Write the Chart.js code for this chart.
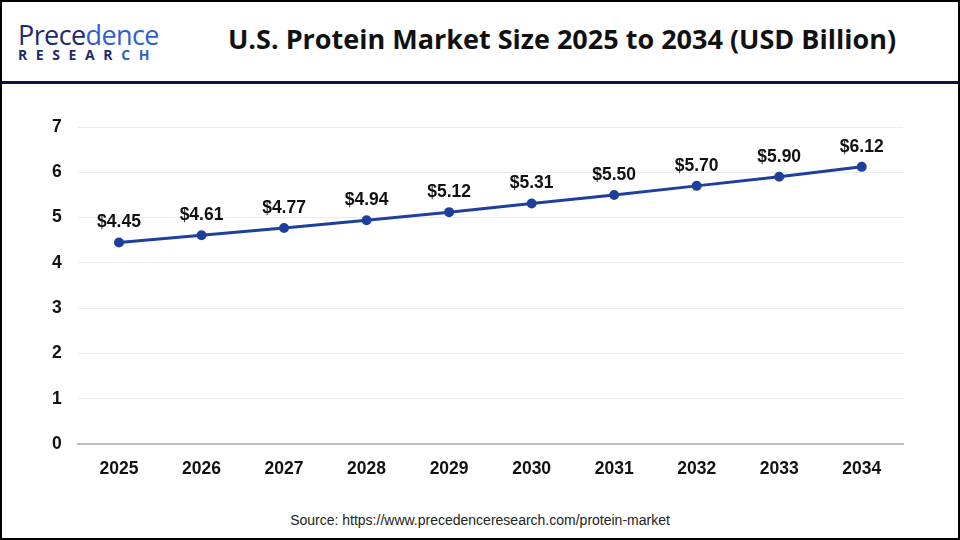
<!DOCTYPE html>
<html>
<head>
<meta charset="utf-8">
<script src="https://cdn.jsdelivr.net/npm/chart.js@4.4.0/dist/chart.umd.min.js"></script>
<style>
  html, body { margin: 0; padding: 0; background: #fff; }
  #frame {
    position: relative; width: 960px; height: 540px; box-sizing: border-box;
    border: 2px solid #000; overflow: hidden; font-family: "Liberation Sans", Arial, sans-serif;
  }
  #header {
    position: absolute; left: 0; top: 0; width: 956px; height: 79px;
    border-bottom: 3px solid #0b1445;
  }
  #logo { position: absolute; left: 16px; top: 19px; line-height: 1; }
  #logo .top { font-family: "Open Sans", sans-serif; font-size: 27px; color: #1d2a6e; letter-spacing: -0.6px; }
  #logo .top .b { color: #2f5fd0; }
  #logo .bot { font-family: "Open Sans", sans-serif; font-weight: 700; font-size: 14px; color: #1d2a6e; letter-spacing: 8.6px; margin-top: 0px; }
  #logo .bot .b { color: #2f5fd0; }
  #title {
    position: absolute; left: 164px; right: 0; top: 22px; text-align: center;
    font-family: "Open Sans", sans-serif; font-weight: 700; font-size: 27px; color: #111;
    line-height: 1.1;
  }
  #wrap { position: absolute; left: 0; top: 84px; width: 956px; height: 420px; }
  #source {
    position: absolute; left: 0; width: 956px; top: 510px; text-align: center;
    font-size: 14px; color: #222;
  }
</style>
</head>
<body>
<div id="frame">
  <div id="header">
    <div id="logo">
      <div class="top">Prece<span class="b">dence</span></div>
      <div class="bot">RESEAR<span class="b">CH</span></div>
    </div>
    <div id="title">U.S. Protein Market Size 2025 to 2034 (USD Billion)</div>
  </div>
  <div id="wrap"><canvas id="myLineChart"></canvas></div>
  <div id="source">Source: https://www.precedenceresearch.com/protein-market</div>
</div>
<script>
const years = ['2025', '2026', '2027', '2028', '2029', '2030', '2031', '2032', '2033', '2034'];
const marketSize = [4.45, 4.61, 4.77, 4.94, 5.12, 5.31, 5.50, 5.70, 5.90, 6.12];
const yTicks = [0, 1, 2, 3, 4, 5, 6, 7];

// Dollar labels above each point
const valueLabels = {
    id: 'valueLabels',
    afterDatasetsDraw(chart) {
        const ctx = chart.ctx;
        const meta = chart.getDatasetMeta(0);
        ctx.save();
        ctx.font = 'bold 17.5px "Liberation Sans", Arial, sans-serif';
        ctx.fillStyle = '#111';
        ctx.textAlign = 'center';
        ctx.textBaseline = 'middle';
        meta.data.forEach((pt, i) => {
            ctx.fillText('$' + marketSize[i].toFixed(2), pt.x, pt.y - 20);
        });
        ctx.restore();
    }
};

const ctx = document.getElementById('myLineChart');
const myLineChart = new Chart(ctx, {
    type: 'line',
    data: {
        labels: years,
        datasets: [{
            data: marketSize,
            borderColor: '#1f3f9c',
            backgroundColor: '#1f3f9c',
            borderWidth: 3,
            pointRadius: 3.5,
            pointHoverRadius: 3.5,
            tension: 0
        }]
    },
    options: {
        responsive: true,
        maintainAspectRatio: false,
        animation: false,
        layout: { padding: { top: 41, right: 55, left: 34, bottom: 19 } },
        plugins: {
            legend: { display: false },
            tooltip: { enabled: false }
        },
        scales: {
            x: {
                offset: true,
                grid: { display: false },
                border: { color: '#bdbdbd', width: 2 },
                ticks: {
                    color: '#111',
                    padding: 7,
                    font: { family: '"Liberation Sans", Arial, sans-serif', size: 17.5, weight: 'bold' }
                }
            },
            y: {
                min: 0,
                max: 7,
                afterBuildTicks: scale => { scale.ticks = yTicks.map(v => ({ value: v })); },
                grid: { color: '#ececec', drawTicks: false },
                border: { display: false },
                ticks: {
                    color: '#111',
                    padding: 16,
                    font: { family: '"Liberation Sans", Arial, sans-serif', size: 17.5, weight: 'bold' }
                }
            }
        }
    },
    plugins: [valueLabels]
});
</script>
</body>
</html>
